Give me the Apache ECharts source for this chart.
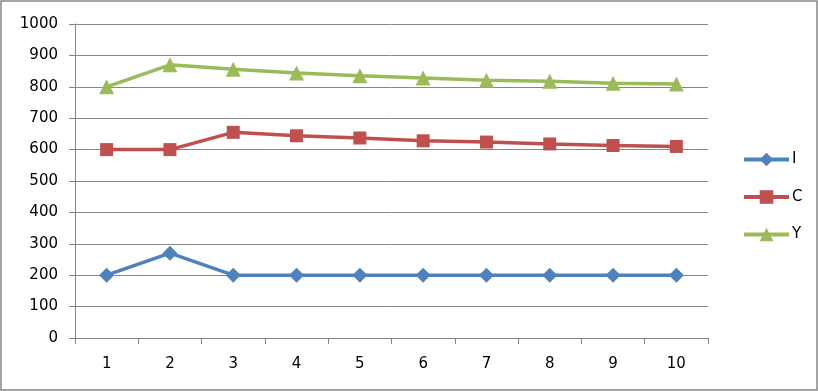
<!DOCTYPE html>
<html><head><meta charset="utf-8">
<script src="https://cdn.jsdelivr.net/npm/echarts@6/dist/echarts.min.js"></script>
<style>html,body{margin:0;padding:0;background:#fff}#c{width:818px;height:391px}</style>
</head><body><div id="c"></div>
<script>
const categories = ['1','2','3','4','5','6','7','8','9','10'];
const seriesI = [200, 270, 200, 200, 200, 200, 200, 200, 200, 200];
const seriesC = [600, 600, 655, 644, 637, 628, 624, 618, 613, 610];
const seriesY = [800, 870, 856, 844, 835, 828, 821, 818, 811, 809];
const FONT = 'DejaVu Sans';
const FS = 15;
const chart = echarts.init(document.getElementById('c'));
function mk(name, data, color, symbol, size){
  return {name, type:'line', data, symbol, symbolSize:size, color,
    lineStyle:{width:3.5, color}, itemStyle:{color}, animation:false};
}
chart.setOption({
  animation:false,
  graphic:{elements:[{type:'rect', shape:{x:1,y:1,width:816,height:389},
    style:{fill:null, stroke:'#868686', lineWidth:1.5}, silent:true, z:100}]},
  grid:{left:75, right:110, top:24, bottom:53, containLabel:false},
  legend:{orient:'vertical', left:737, top:146, itemWidth:45, itemHeight:17, itemGap:20.5,
    lineStyle:{width:4},
    textStyle:{fontFamily:FONT, fontSize:FS, color:'#000', lineHeight:17, padding:[0,0,0,-2]},
    data:['I','C','Y']},
  xAxis:{type:'category', data:categories, boundaryGap:true,
    axisLine:{lineStyle:{color:'#868686', width:1}},
    axisTick:{show:true, length:6, lineStyle:{color:'#868686'}},
    axisLabel:{fontFamily:FONT, fontSize:FS, color:'#000', margin:19}},
  yAxis:{type:'value', min:0, max:1000, interval:100,
    axisLine:{show:true, lineStyle:{color:'#868686'}},
    axisTick:{show:true, length:6, lineStyle:{color:'#868686'}},
    splitLine:{lineStyle:{color:'#868686', width:1}},
    axisLabel:{fontFamily:FONT, fontSize:FS, color:'#000', margin:17, formatter:v=>String(v)}},
  series:[
    mk('I', seriesI, '#4F81BD', 'diamond', 15),
    mk('C', seriesC, '#C0504D', 'rect', 13),
    mk('Y', seriesY, '#9BBB59', 'triangle', 15)
  ]
});
</script></body></html>
